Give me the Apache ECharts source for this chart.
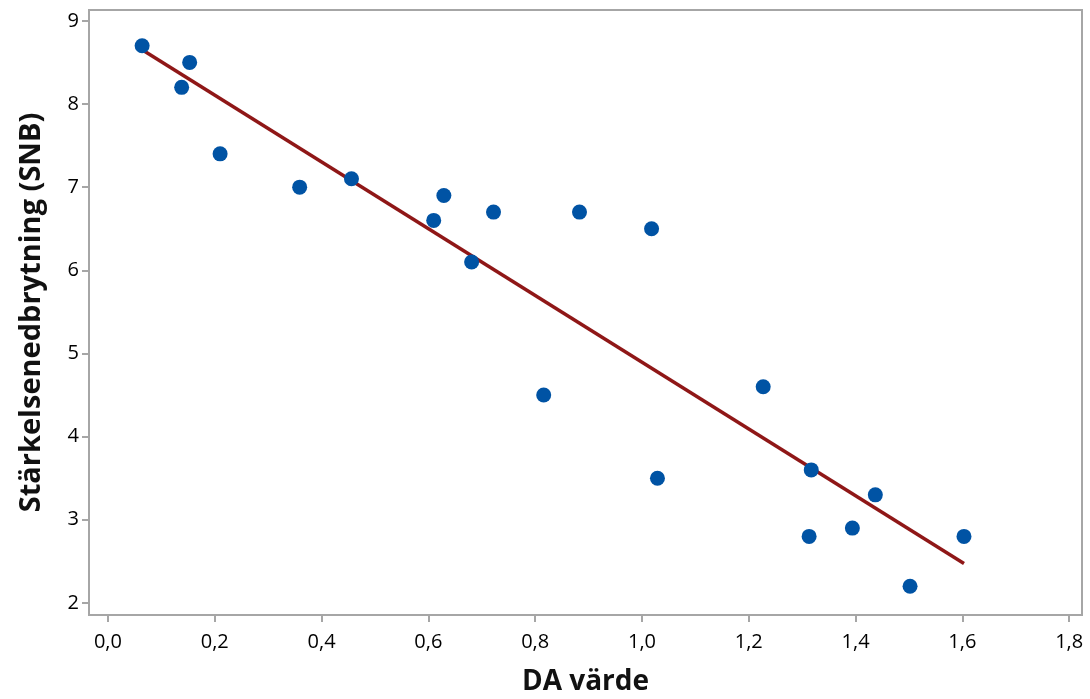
<!DOCTYPE html>
<html>
<head>
<meta charset="utf-8">
<title>DA värde vs SNB</title>
<script src="https://cdn.jsdelivr.net/npm/echarts@6/dist/echarts.min.js"></script>
<style>
  html, body { margin: 0; padding: 0; background: #fff; }
  #chart { width: 1090px; height: 699px; }
</style>
</head>
<body>
<div id="chart"></div>
<script>
// DA värde (x) and Stärkelsenedbrytning (y)
const daValues = [0.064, 0.138, 0.153, 0.210, 0.359, 0.456, 0.610, 0.629, 0.681, 0.722, 0.883,
  1.018, 0.816, 1.029, 1.227, 1.317, 1.313, 1.394, 1.437, 1.502, 1.603];
const snbValues = [8.7, 8.2, 8.5, 7.4, 7.0, 7.1, 6.6, 6.9, 6.1, 6.7, 6.7,
  6.5, 4.5, 3.5, 4.6, 3.6, 2.8, 2.9, 3.3, 2.2, 2.8];
const xTicks = [0, 0.2, 0.4, 0.6, 0.8, 1.0, 1.2, 1.4, 1.6, 1.8];
const yTicks = [2, 3, 4, 5, 6, 7, 8, 9];

const points = daValues.map((x, i) => [x, snbValues[i]]);

// least squares fit line
const n = daValues.length;
const mx = daValues.reduce((a, b) => a + b, 0) / n;
const my = snbValues.reduce((a, b) => a + b, 0) / n;
let sxy = 0, sxx = 0;
for (let i = 0; i < n; i++) {
  sxy += (daValues[i] - mx) * (snbValues[i] - my);
  sxx += (daValues[i] - mx) * (daValues[i] - mx);
}
const slope = sxy / sxx;
const intercept = my - slope * mx;
const xMin = Math.min(...daValues);
const xMax = Math.max(...daValues);
const fitLine = [[xMin, intercept + slope * xMin], [xMax, intercept + slope * xMax]];

const fmt = v => v.toFixed(1).replace('.', ',');
const axisGrey = '#a6a6a6';
const font = '"Open Sans", Lato, sans-serif';

const chart = echarts.init(document.getElementById('chart'));
chart.setOption({
  animation: false,
  grid: {
    left: 89, top: 10, right: 8, bottom: 84,
    outerBoundsMode: 'none',
    show: true, borderColor: axisGrey, borderWidth: 2
  },
  xAxis: {
    type: 'value',
    min: -0.0355, max: 1.824,
    name: 'DA värde',
    nameLocation: 'middle',
    nameGap: 53,
    nameTextStyle: { fontFamily: font, fontSize: 28, fontWeight: 'bold', color: '#111' },
    axisLine: { show: true, onZero: false, lineStyle: { color: axisGrey, width: 2 } },
    axisTick: { show: true, customValues: xTicks, length: 7, lineStyle: { color: axisGrey, width: 2 } },
    axisLabel: {
      customValues: xTicks, formatter: fmt, margin: 17,
      fontFamily: font, fontSize: 20, color: '#000'
    },
    splitLine: { show: false }
  },
  yAxis: {
    type: 'value',
    min: 1.855, max: 9.13,
    name: 'Stärkelsenedbrytning (SNB)',
    nameLocation: 'middle',
    nameGap: 43,
    nameTextStyle: { fontFamily: font, fontSize: 29, fontWeight: 'bold', color: '#111' },
    axisLine: { show: true, onZero: false, lineStyle: { color: axisGrey, width: 2 } },
    axisTick: { show: true, customValues: yTicks, length: 7, lineStyle: { color: axisGrey, width: 2 } },
    axisLabel: {
      customValues: yTicks, margin: 10,
      fontFamily: font, fontSize: 20, color: '#000'
    },
    splitLine: { show: false }
  },
  series: [
    {
      type: 'line',
      data: fitLine,
      showSymbol: false,
      symbol: 'none',
      lineStyle: { color: '#8f1717', width: 3.5 },
      z: 2
    },
    {
      type: 'scatter',
      data: points,
      symbolSize: 15,
      itemStyle: { color: '#0053a4', opacity: 1 },
      z: 3
    }
  ]
});
</script>
</body>
</html>
